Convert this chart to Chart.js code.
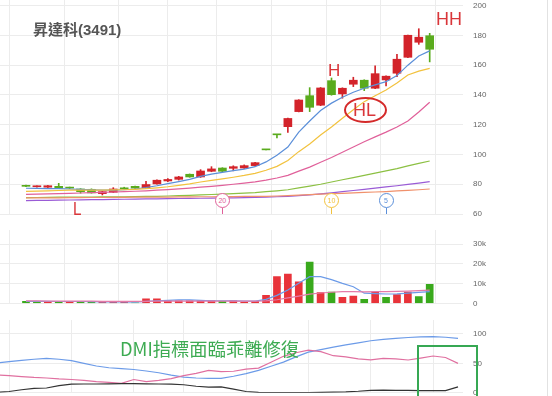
<!DOCTYPE html>
<html>
<head>
<meta charset="utf-8">
<script src="https://cdn.jsdelivr.net/npm/chart.js@4/dist/chart.umd.min.js"></script>
<style>
html, body { margin: 0; padding: 0; background: #fff; }
#wrap { position: relative; width: 552px; height: 396px; overflow: hidden; font-family: "Liberation Sans", "Noto Sans CJK TC", sans-serif; }
canvas { position: absolute; left: 0; }
.t { position: absolute; white-space: nowrap; line-height: 1; }
.mk { position: absolute; top: 193px; width: 13px; height: 13px; border: 1px solid; border-radius: 50%; background: #fff; font-size: 7px; line-height: 13px; text-align: center; }
.stem { position: absolute; top: 208px; width: 1px; height: 6px; }
</style>
</head>
<body>
<div id="wrap">
  <canvas id="priceChart" style="top:0" width="552" height="220"></canvas>
  <canvas id="volChart" style="top:230px" width="552" height="80"></canvas>
  <canvas id="dmiChart" style="top:320px" width="552" height="76"></canvas>

  <div class="t" style="left:33px;top:22px;font-size:15px;font-weight:bold;color:#555">昇達科(3491)</div>
  <div class="t" style="left:328px;top:62px;font-size:17px;color:#d9363a">H</div>
  <div class="t" style="left:436px;top:10px;font-size:18px;color:#d9363a">HH</div>
  <div class="t" style="left:353px;top:101px;font-size:18px;color:#d9363a">HL</div>
  <div style="position:absolute;left:344px;top:97px;width:39px;height:22px;border:2px solid #d42a2a;border-radius:50%"></div>
  <div class="t" style="left:73px;top:199px;font-size:19px;color:#d9363a;transform:scaleX(0.8);transform-origin:left">L</div>
  <div class="t" style="left:120px;top:339px;font-size:18.3px;color:#3dab52;font-family:'Noto Sans CJK TC',sans-serif">DMI指標面臨乖離修復</div>
  <div style="position:absolute;left:417px;top:345px;width:57px;height:70px;border:2px solid #36a853"></div>
  <div style="position:absolute;left:547px;top:0;width:1px;height:396px;background:#e2e2e2"></div>
  <div id="markers"></div>
</div>
<script>
// trading days shown (first one is cut by the left edge)
const days = [0,1,2,3,4,5,6,7,8,9,10,11,12,13,14,15,16,17,18,19,20,21,22,23,24,25,26,27,28,29,30,31,32,33,34,35,36,37];
const gridDays = [1,6,11,15,20,25,30,35];

const opens  = [79.2,78.3,78.0,78.6,77.9,76.8,76.6,73.7,74.6,77.6,78.6,77.5,80.2,82.2,83.3,86.7,84.9,88.7,90.9,90.7,90.9,92.5,103.3,113.5,118.7,128.8,139.5,133.1,149.6,140.7,147.2,149.9,144.5,150.1,154.6,165.3,175.4,179.8];
const highs  = [79.5,78.9,79.2,80.6,78.1,77.0,76.9,75.2,77.7,78.0,78.8,82.0,83.0,83.8,85.3,86.9,89.8,91.8,91.1,92.4,93.0,94.8,103.3,113.6,124.4,136.8,144.9,145.0,151.4,144.8,151.9,150.2,159.5,152.9,167.3,180.3,184.5,181.4];
const lows   = [78.4,78.0,77.8,77.2,77.1,74.0,74.0,72.8,74.4,76.7,77.2,77.3,80.0,81.8,82.8,84.7,84.6,88.4,88.4,89.0,90.6,92.3,103.1,111.1,114.9,128.6,128.8,132.8,139.8,137.8,145.6,142.9,144.2,146.0,152.3,165.0,174.0,162.2];
const closes = [78.6,78.5,79.0,77.3,77.4,75.0,74.2,75.0,76.8,76.9,77.4,79.8,82.7,83.2,84.9,84.9,88.9,90.3,88.7,91.8,92.5,94.5,103.1,113.2,124.2,136.6,131.7,144.7,140.2,144.5,149.9,144.5,154.3,152.6,164.0,180.1,178.8,170.7];

const ma5   = [77.3,77.2,77.1,77.0,76.8,76.5,76.2,76.0,76.0,76.3,76.8,77.8,79.0,80.4,81.8,83.3,85.3,86.8,88.0,89.2,90.2,91.8,95.0,99.5,105.0,115.0,122.5,129.5,134.5,138.5,141.8,144.5,146.8,148.9,153.0,160.0,166.2,169.6];
const ma10  = [75.2,75.4,75.6,75.8,76.0,76.1,76.1,76.1,76.2,76.3,76.6,77.0,77.6,78.3,79.2,80.2,81.5,82.6,83.6,84.7,85.9,87.3,89.4,92.0,96.0,101.9,107.0,113.1,118.5,124.3,130.0,135.5,139.5,143.3,148.0,153.4,156.0,157.9];
const ma20  = [73.2,73.3,73.5,73.7,73.9,74.1,74.3,74.5,74.8,75.0,75.3,75.6,76.0,76.4,76.9,77.4,78.0,78.6,79.3,80.0,80.8,81.6,82.8,84.2,86.0,88.8,91.5,94.8,98.0,101.5,105.0,108.5,111.8,115.0,118.5,122.5,128.5,135.1];
const ma60  = [71.0,71.1,71.2,71.3,71.3,71.4,71.4,71.5,71.5,71.6,71.7,71.8,71.9,72.1,72.3,72.5,72.8,73.1,73.4,73.7,74.0,74.4,75.0,75.6,76.3,77.5,78.7,80.0,81.5,83.0,84.5,86.0,87.5,89.0,90.5,92.3,94.0,95.6];
const ma120 = [69.0,69.1,69.2,69.3,69.4,69.5,69.6,69.7,69.8,69.9,70.0,70.1,70.2,70.3,70.4,70.5,70.6,70.7,70.8,70.9,71.0,71.1,71.3,71.6,71.9,72.4,72.9,73.5,74.2,75.0,75.8,76.6,77.4,78.2,79.0,79.9,80.8,81.7];
const ma240 = [70.8,70.8,70.9,70.9,71.0,71.0,71.1,71.1,71.2,71.2,71.3,71.3,71.4,71.4,71.5,71.5,71.6,71.6,71.7,71.7,71.8,71.8,71.9,72.1,72.4,72.7,73.0,73.3,73.6,73.9,74.2,74.5,74.8,75.1,75.5,75.9,76.3,76.8];
const priceTicks = [60,80,100,120,140,160,180,200];

const volumes = [1000,900,1000,1000,500,1000,500,500,1000,500,300,2300,2300,1200,1200,1300,1300,1200,1000,1200,500,1000,4000,13500,14800,10900,20900,5400,5700,3000,3700,2000,5700,3000,4400,5700,3400,9600];
const volDir  = ['d','d','u','d','u','d','d','u','u','u','d','u','u','u','u','u','u','u','d','u','u','u','u','u','u','u','d','u','d','u','u','d','u','d','u','u','d','d'];
const vol5    = [1000,950,950,900,900,900,800,700,700,700,600,1000,1300,1500,1700,1700,1500,1300,1300,1200,1100,1100,2000,4000,6700,10100,13500,13500,12000,10100,8400,5100,4900,4700,4800,5100,5500,5900];
const vol20   = [1200,1200,1150,1150,1100,1100,1050,1000,1000,1000,950,1000,1050,1100,1100,1100,1100,1100,1100,1100,1050,1050,1200,1800,2700,3600,4600,5200,5600,5900,5900,5800,5900,5900,6000,6200,6400,6700];
const volTicks = [0,10000,20000,30000];

const pdi = [50.5,53,55,57,58.5,57,54.5,50,45.5,42.5,41,39.5,37,34,30,26.5,25,24.5,24.5,28,32.5,38,45,52,61,69,73.5,77.5,81.5,85,88.5,91,92.5,94,95,95.4,94.5,92.7];
const mdi = [30.5,29,27.5,26,25,23.5,22.5,21,19,17.5,16,22.5,19,21,24,29,33,38,36,36.5,40,42,52,62,68,72.5,70,63,61,57.5,56,58.5,57.5,55.7,59,62.5,60,50];
const adx = [0.5,2,5,7.5,8,12,14.5,14.8,14.8,15,15.5,15.5,15,14.8,14.5,13.5,11,9.5,9.8,6,2,0.5,0.3,0.3,0.3,0.3,0.5,1,1.5,2.5,4,4.5,4,3.8,3.6,3.5,3.5,10];
const dmiTicks = [0,50,100];

// MA deduction markers
const markerLabels = ['20','10','5'];
const markerDays   = [18,28,33];
const markerColors = ['#e0609a','#f2c23e','#5b8fd9'];

const RED = '#d3232a', GREEN = '#5aab1d';
const VRED = '#e8333a', VGREEN = '#39a91c';
const GRID = '#ececec';

function xAxis() {
  return {
    type: 'linear', min: 0.27, max: 37.4,
    afterBuildTicks: s => { s.ticks = gridDays.map(v => ({ value: v })); },
    afterFit: s => { s.height = 0; },
    ticks: { display: false },
    grid: { color: GRID, drawTicks: false },
    border: { display: false }
  };
}
function yAxis(min, max, ticks, fmt) {
  return {
    type: 'linear', position: 'right', min: min, max: max,
    afterBuildTicks: s => { s.ticks = ticks.map(v => ({ value: v })); },
    afterFit: s => { s.width = 89; s.paddingTop = 0; s.paddingBottom = 0; },
    ticks: { padding: 10, color: '#666', font: { family: 'Liberation Sans', size: 8 }, callback: fmt || (v => v) },
    grid: { color: GRID, drawTicks: false },
    border: { display: false }
  };
}
function line(arr, color, order) {
  return { type: 'line', data: days.map((d, i) => ({ x: d, y: arr[i] })), borderColor: color, borderWidth: 1.2, pointRadius: 0, fill: false, order: order || 0 };
}
const base = { responsive: false, animation: false, events: [], plugins: { legend: { display: false }, tooltip: { enabled: false } } };

const candleColors = days.map((d, i) => closes[i] >= opens[i] ? RED : GREEN);

const markerPlugin = {
  id: 'markers',
  afterDraw(chart) {
    const box = document.getElementById('markers');
    box.innerHTML = '';
    markerDays.forEach((d, k) => {
      const x = chart.scales.x.getPixelForValue(d);
      box.insertAdjacentHTML('beforeend',
        `<div class="mk" style="left:${x - 7.5}px;border-color:${markerColors[k]};color:${markerColors[k]}">${markerLabels[k]}</div>` +
        `<div class="stem" style="left:${x - 0.5}px;background:${markerColors[k]}"></div>`);
    });
  }
};

new Chart(document.getElementById('priceChart'), {
  type: 'bar',
  data: {
    datasets: [
      { data: days.map((d, i) => ({ x: d, y: [lows[i], highs[i]] })), backgroundColor: candleColors, barThickness: 1, grouped: false, order: 3 },
      { data: days.map((d, i) => ({ x: d, y: [opens[i], closes[i]] })), backgroundColor: candleColors, barThickness: 8, minBarLength: 1, grouped: false, order: 2 },
      line(ma240, '#f0916c'),
      line(ma120, '#9a5bd6'),
      line(ma60, '#8cc043'),
      line(ma20, '#e0609a'),
      line(ma10, '#f2c23e'),
      line(ma5, '#5b8fd9')
    ]
  },
  options: Object.assign({}, base, {
    layout: { padding: { top: 0, left: 0, right: 0, bottom: 6 } },
    scales: { x: xAxis(), y: yAxis(60, 203.8, priceTicks) }
  }),
  plugins: [markerPlugin]
});

new Chart(document.getElementById('volChart'), {
  type: 'bar',
  data: {
    datasets: [
      { data: days.map((d, i) => ({ x: d, y: volumes[i] })), backgroundColor: volDir.map(v => v === 'u' ? VRED : VGREEN), barThickness: 7, grouped: false, order: 2 },
      line(vol20, '#e57aa8'),
      line(vol5, '#6c9be8')
    ]
  },
  options: Object.assign({}, base, {
    layout: { padding: { top: 0, left: 0, right: 0, bottom: 6.7 } },
    scales: { x: xAxis(), y: yAxis(0, 37083, volTicks, v => v === 0 ? '0' : (v / 1000) + 'k') }
  })
});

new Chart(document.getElementById('dmiChart'), {
  type: 'line',
  data: {
    datasets: [
      line(adx, '#333333'),
      line(mdi, '#e070a0'),
      line(pdi, '#6c9be8')
    ]
  },
  options: Object.assign({}, base, {
    layout: { padding: { top: 0, left: 0, right: 0, bottom: 3.3 } },
    scales: { x: xAxis(), y: yAxis(0, 123.85, dmiTicks) }
  })
});
</script>
</body>
</html>
